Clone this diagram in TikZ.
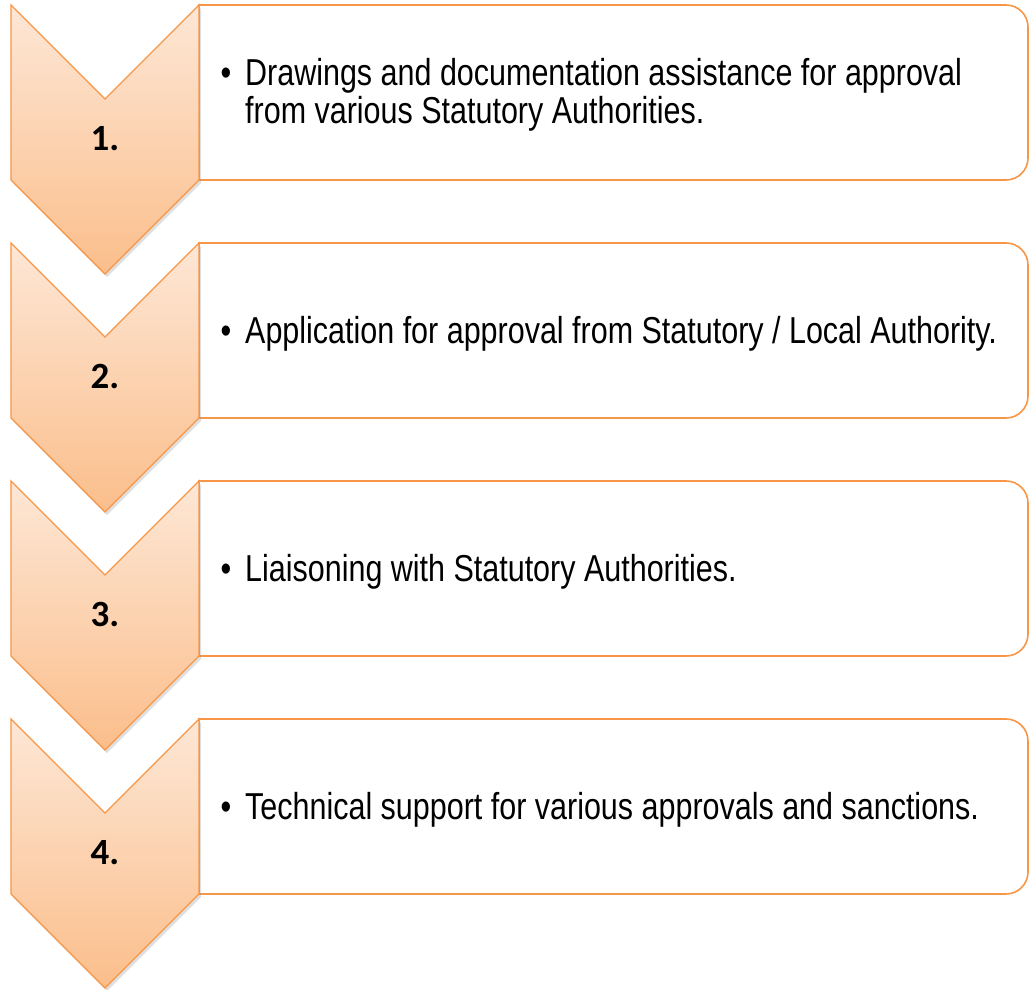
\documentclass[tikz,border=0pt]{standalone}
\usepackage{fontspec}
\usepackage{graphicx}
\setmainfont{Liberation Sans}
\newfontfamily\numfont{Carlito}
\usetikzlibrary{shadows}
\definecolor{chevline}{HTML}{F79646}
\definecolor{chevtop}{HTML}{FDE7D6}
\definecolor{chevbot}{HTML}{FBBE8B}
\newcommand\bodytxt[1]{\scalebox{0.813}[1]{\fontsize{37.5}{37.5}\selectfont #1}}
\tikzset{
  stepbox/.style={draw=chevline, line width=1.6pt, fill=white},
  chevron/.style={draw=chevline, line width=1.4pt, top color=chevtop, bottom color=chevbot,
    line join=miter, drop shadow={opacity=0.25, shadow xshift=2pt, shadow yshift=-3pt}},
  numlabel/.style={anchor=base, inner sep=0pt, font=\numfont\bfseries\fontsize{37}{37}\selectfont},
  linetxt/.style={anchor=base west, inner sep=0pt},
  bullettxt/.style={anchor=base, inner sep=0pt}
}
\begin{document}
\begin{tikzpicture}[x=1pt,y=1pt]
\useasboundingbox (0,0) rectangle (1029,-990);
% boxes
\foreach \T in {5,243,481,719}{
  \draw[stepbox] (199,-\T) -- (1006,-\T) arc[start angle=90,end angle=0,radius=22pt]
     -- (1028,-\T-153) arc[start angle=0,end angle=-90,radius=22pt] -- (199,-\T-175) -- cycle;
}
% chevrons
\foreach \T in {5,243,481,719}{
  \path[chevron] (11,-\T) -- (105,-\T-94) -- (199,-\T) -- (199,-\T-175)
     -- (105,-\T-269) -- (11,-\T-175) -- cycle;
}
% numbers
\node[numlabel] (n1) at (105,-150) {1.};
\node[numlabel] (n2) at (105,-388) {2.};
\node[numlabel] (n3) at (105,-626) {3.};
\node[numlabel] (n4) at (105,-864) {4.};
% texts
\node[bullettxt] (b1) at (226,-85) {\bodytxt{•}};
\node[linetxt] (t1a) at (245,-85) {\bodytxt{Drawings and documentation assistance for approval}};
\node[linetxt] (t1b) at (245,-123) {\bodytxt{from various Statutory Authorities.}};
\node[bullettxt] (b2) at (226,-343) {\bodytxt{•}};
\node[linetxt] (t2) at (245,-343) {\bodytxt{Application for approval from Statutory / Local Authority.}};
\node[bullettxt] (b3) at (226,-581) {\bodytxt{•}};
\node[linetxt] (t3) at (245,-581) {\bodytxt{Liaisoning with Statutory Authorities.}};
\node[bullettxt] (b4) at (226,-819) {\bodytxt{•}};
\node[linetxt] (t4) at (245,-819) {\bodytxt{Technical support for various approvals and sanctions.}};
\end{tikzpicture}
\end{document}
